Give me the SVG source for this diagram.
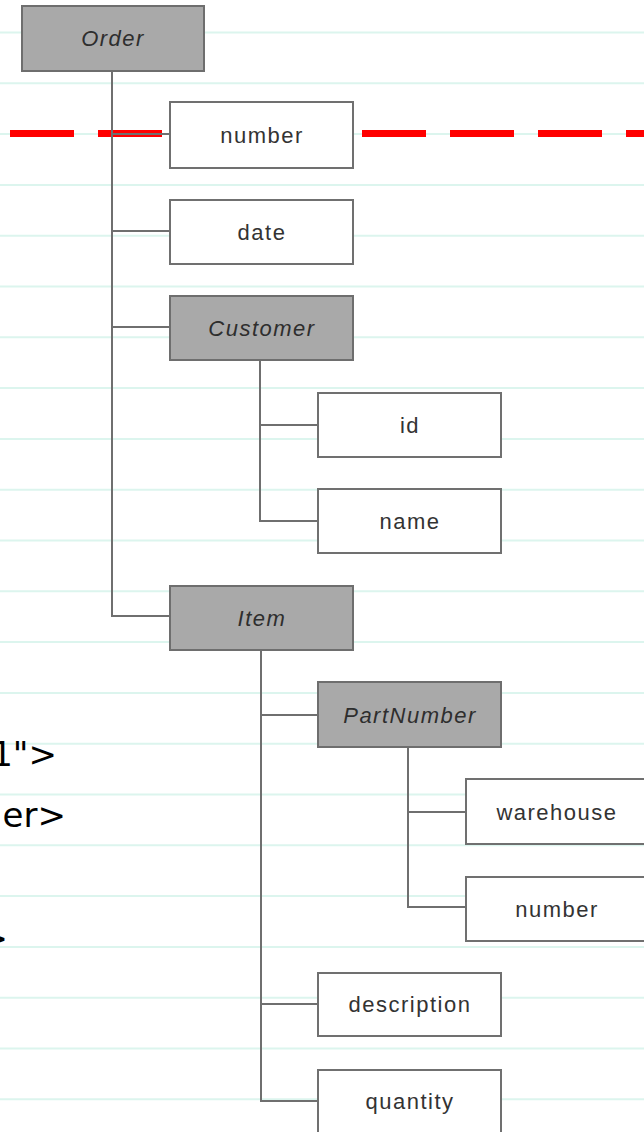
<svg xmlns="http://www.w3.org/2000/svg" width="644" height="1132" viewBox="0 0 644 1132">
<style>
.rule{stroke:#dcf5ee;stroke-width:2}
.conn{stroke:#6f6f6f;stroke-width:2;fill:none}
.g rect{fill:#a9a9a9;stroke:#6e6e6e;stroke-width:2}
.w rect{fill:#ffffff;stroke:#707070;stroke-width:2}
.lbl{font-family:"Liberation Sans",Arial,sans-serif;font-size:22px;letter-spacing:1.5px;fill:#333;text-anchor:middle}
.g .lbl{font-style:italic;fill:#2e2e2e}
.code{font-family:"DejaVu Sans",Verdana,sans-serif;font-size:34px;fill:#000}
</style>
<rect width="644" height="1132" fill="#ffffff"/>
<g id="background-rules">
<line class="rule" x1="0" y1="32.5" x2="644" y2="32.5"/>
<line class="rule" x1="0" y1="83.3" x2="644" y2="83.3"/>
<line class="rule" x1="0" y1="134.1" x2="644" y2="134.1"/>
<line class="rule" x1="0" y1="184.9" x2="644" y2="184.9"/>
<line class="rule" x1="0" y1="235.7" x2="644" y2="235.7"/>
<line class="rule" x1="0" y1="286.5" x2="644" y2="286.5"/>
<line class="rule" x1="0" y1="337.3" x2="644" y2="337.3"/>
<line class="rule" x1="0" y1="388.1" x2="644" y2="388.1"/>
<line class="rule" x1="0" y1="438.9" x2="644" y2="438.9"/>
<line class="rule" x1="0" y1="489.7" x2="644" y2="489.7"/>
<line class="rule" x1="0" y1="540.5" x2="644" y2="540.5"/>
<line class="rule" x1="0" y1="591.3" x2="644" y2="591.3"/>
<line class="rule" x1="0" y1="642.1" x2="644" y2="642.1"/>
<line class="rule" x1="0" y1="692.9" x2="644" y2="692.9"/>
<line class="rule" x1="0" y1="743.7" x2="644" y2="743.7"/>
<line class="rule" x1="0" y1="794.5" x2="644" y2="794.5"/>
<line class="rule" x1="0" y1="845.3" x2="644" y2="845.3"/>
<line class="rule" x1="0" y1="896.1" x2="644" y2="896.1"/>
<line class="rule" x1="0" y1="946.9" x2="644" y2="946.9"/>
<line class="rule" x1="0" y1="997.7" x2="644" y2="997.7"/>
<line class="rule" x1="0" y1="1048.5" x2="644" y2="1048.5"/>
<line class="rule" x1="0" y1="1099.3" x2="644" y2="1099.3"/>
</g>
<g id="code-fragments">
<text class="code" x="57" y="766" text-anchor="end">1"&gt;</text>
<text class="code" x="66" y="827" text-anchor="end">er&gt;</text>
<text class="code" x="8" y="950" text-anchor="end">&gt;</text>
</g>
<line id="cut-line" x1="10" y1="133.5" x2="644" y2="133.5" stroke="#ff0000" stroke-width="7" stroke-dasharray="64 24"/>
<g id="connectors">
<path class="conn" d="M112 71 V616 H170"/>
<path class="conn" d="M112 134 H170"/>
<path class="conn" d="M112 231 H170"/>
<path class="conn" d="M112 327 H170"/>
<path class="conn" d="M260 360 V521 H318"/>
<path class="conn" d="M260 425 H318"/>
<path class="conn" d="M261 650 V1101 H318"/>
<path class="conn" d="M261 715 H318"/>
<path class="conn" d="M261 1004 H318"/>
<path class="conn" d="M408 747 V907 H466"/>
<path class="conn" d="M408 812 H466"/>
</g>
<g id="node-order" class="g"><rect x="22" y="6" width="182" height="65"/><text class="lbl" x="113" y="46">Order</text></g>
<g id="node-number" class="w"><rect x="170" y="102" width="183" height="66"/><text class="lbl" x="262" y="143">number</text></g>
<g id="node-date" class="w"><rect x="170" y="200" width="183" height="64"/><text class="lbl" x="262" y="240">date</text></g>
<g id="node-customer" class="g"><rect x="170" y="296" width="183" height="64"/><text class="lbl" x="262" y="336">Customer</text></g>
<g id="node-id" class="w"><rect x="318" y="393" width="183" height="64"/><text class="lbl" x="410" y="433">id</text></g>
<g id="node-name" class="w"><rect x="318" y="489" width="183" height="64"/><text class="lbl" x="410" y="529">name</text></g>
<g id="node-item" class="g"><rect x="170" y="586" width="183" height="64"/><text class="lbl" x="262" y="626">Item</text></g>
<g id="node-partnumber" class="g"><rect x="318" y="682" width="183" height="65"/><text class="lbl" x="410" y="723">PartNumber</text></g>
<g id="node-warehouse" class="w"><rect x="466" y="779" width="190" height="65"/><text class="lbl" x="557" y="820">warehouse</text></g>
<g id="node-number2" class="w"><rect x="466" y="877" width="190" height="64"/><text class="lbl" x="557" y="917">number</text></g>
<g id="node-description" class="w"><rect x="318" y="973" width="183" height="63"/><text class="lbl" x="410" y="1012">description</text></g>
<g id="node-quantity" class="w"><rect x="318" y="1070" width="183" height="70"/><text class="lbl" x="410" y="1109">quantity</text></g>
</svg>
